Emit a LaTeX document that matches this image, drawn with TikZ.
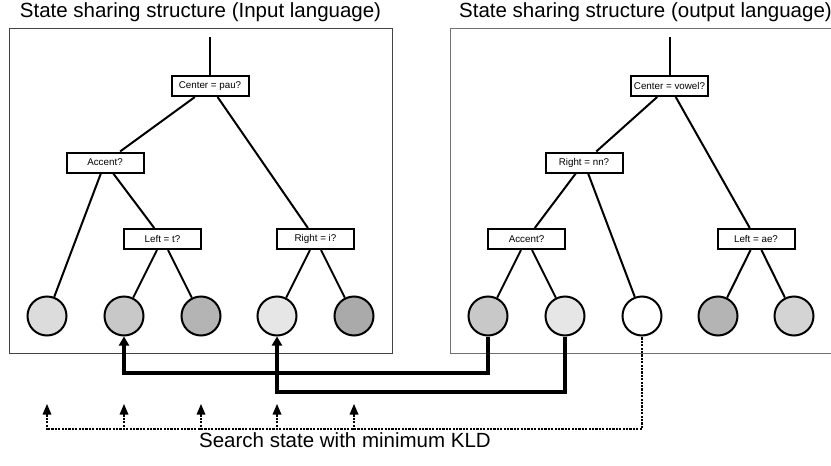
\documentclass[tikz,border=0pt]{standalone}
\usepackage{fontspec}
\setmainfont{Liberation Sans}
\usetikzlibrary{arrows.meta,decorations.markings}
\definecolor{gA}{HTML}{DCDCDC}
\definecolor{gB}{HTML}{C8C8C8}
\definecolor{gC}{HTML}{B4B4B4}
\definecolor{gD}{HTML}{E6E6E6}
\definecolor{gE}{HTML}{AAAAAA}
\definecolor{gF}{HTML}{D4D4D4}
\definecolor{frameL}{HTML}{444444}
\definecolor{frameR}{HTML}{707070}
\tikzset{
  qbox/.style={draw, line width=2pt, fill=white, minimum width=77pt, minimum height=20pt, inner sep=0pt, font=\fontsize{9.8}{11}\selectfont},
  leaf/.style={circle, draw, line width=2pt, minimum size=39pt, inner sep=0pt},
  edge/.style={line width=2pt},
  title/.style={font=\fontsize{20.5}{24}\selectfont, inner sep=0pt},
  thickarrow/.style={line width=3.3pt, -{Triangle[length=9pt,width=10pt]}},
  dotline/.style={decoration={markings, mark=between positions 0 and 1 step 3.4pt with {\fill[black] (-1.1pt,-1.1pt) rectangle (1.1pt,1.1pt);}}, decorate},
  dottip/.style={fill=black}
}
\begin{document}
\begin{tikzpicture}[x=1pt,y=-1pt]
\useasboundingbox (0,0) rectangle (831,466);
% titles
\node[title] (t1) at (200.5,12) {State sharing structure (Input language)};
\node[title] (t2) at (645.5,12) {State sharing structure (output language)};
% frames
\draw[line width=1pt, frameL] (9,28) rectangle (392,353);
\draw[line width=1pt, frameR] (835,28) -- (450,28) -- (450,353) -- (835,353);

% ---- left tree
\coordinate (lr) at (210,37);
\node[qbox] (lc) at (210,86) {Center = pau?};
\node[qbox] (la) at (105,162.5) {Accent?};
\node[qbox] (ll) at (162.5,239) {Left = t?};
\node[qbox] (li) at (315.5,239) {Right = i?};
\node[leaf, fill=gA] (l1) at (47,316) {};
\node[leaf, fill=gB] (l2) at (124,316) {};
\node[leaf, fill=gC] (l3) at (201,316) {};
\node[leaf, fill=gD] (l4) at (277,316) {};
\node[leaf, fill=gE] (l5) at (354,316) {};
\draw[edge] (lr) -- (lc);
\draw[edge] (lc) -- (la);
\draw[edge] (lc) -- (li);
\draw[edge] (la) -- (l1);
\draw[edge] (la) -- (ll);
\draw[edge] (ll) -- (l2);
\draw[edge] (ll) -- (l3);
\draw[edge] (li) -- (l4);
\draw[edge] (li) -- (l5);

% ---- right tree
\coordinate (rr) at (669.5,37);
\node[qbox] (rc) at (669.5,86) {Center = vowel?};
\node[qbox] (rn) at (584,162.5) {Right = nn?};
\node[qbox] (ra) at (526.5,239) {Accent?};
\node[qbox] (re) at (756,239) {Left = ae?};
\node[leaf, fill=gB] (r1) at (488,316) {};
\node[leaf, fill=gD] (r2) at (565,316) {};
\node[leaf, fill=white] (r3) at (642,316) {};
\node[leaf, fill=gC] (r4) at (718,316) {};
\node[leaf, fill=gF] (r5) at (794,316) {};
\draw[edge] (rr) -- (rc);
\draw[edge] (rc) -- (rn);
\draw[edge] (rc) -- (re);
\draw[edge] (rn) -- (ra);
\draw[edge] (rn) -- (r3);
\draw[edge] (ra) -- (r1);
\draw[edge] (ra) -- (r2);
\draw[edge] (re) -- (r4);
\draw[edge] (re) -- (r5);

% ---- mapping arrows
\draw[thickarrow] (r1.south) |- (124,373) -- (l2.south);
\draw[thickarrow] (r2.south) |- (277,392) -- (l4.south);

% ---- search (dotted)
\foreach \i/\x in {1/47,2/124,3/201,4/277,5/354} {
  \coordinate (s\i) at (\x,429);
  \coordinate (b\i) at (\x,414.5);
  \coordinate (a\i) at (\x,404);
}
\path[dotline] ([yshift=-2pt]r3.south) |- (s1);
\foreach \i in {1,...,5} {
  \path[dotline] (s\i) -- (b\i);
  \fill[dottip] (a\i) -- ([xshift=-4.5pt]b\i) -- ([xshift=4.5pt]b\i) -- cycle;
}
\node[font=\fontsize{20.5}{24}\selectfont, inner sep=0pt] (lbl) at (345,440) {Search state with minimum KLD};
\end{tikzpicture}
\end{document}
